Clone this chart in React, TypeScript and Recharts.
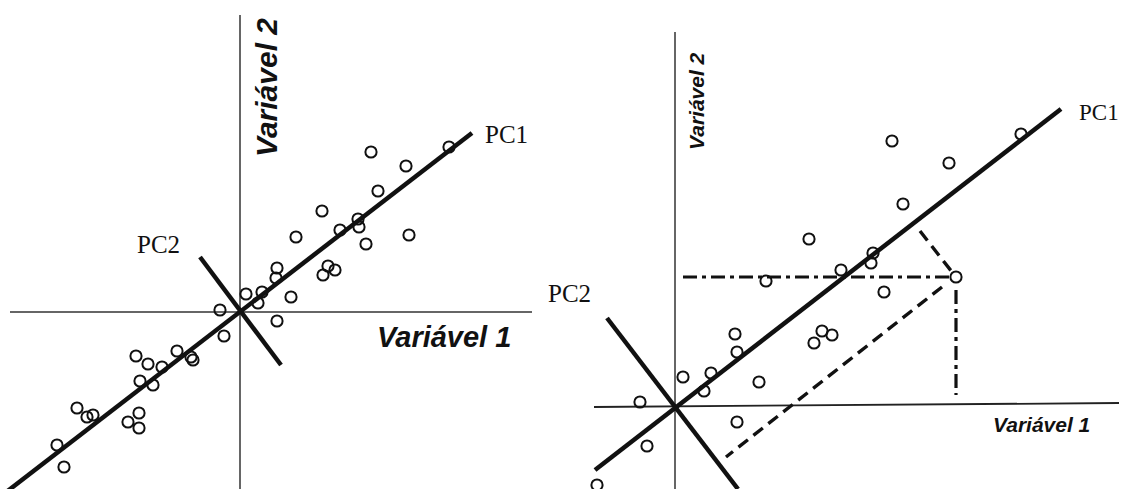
import { ScatterChart, Scatter, XAxis, YAxis } from 'recharts';

type Pt = { x: number; y: number };

// units: pixels from the origin of each panel, y pointing up

// left panel: observations scattered around PC1
const leftPoints: Pt[] = [
  { x: -20, y: 2 }, { x: -16, y: -24 }, { x: -104, y: -44 }, { x: -92, y: -52 },
  { x: -78, y: -55 }, { x: -63, y: -39 }, { x: -49, y: -45 }, { x: -47, y: -48 },
  { x: -100, y: -69 }, { x: -87, y: -73 }, { x: -163, y: -96 }, { x: -153, y: -105 },
  { x: -147, y: -103 }, { x: -112, y: -110 }, { x: -101, y: -101 }, { x: -101, y: -116 },
  { x: -183, y: -133 }, { x: -176, y: -155 }, { x: 131, y: 160 }, { x: 166, y: 146 },
  { x: 209, y: 165 }, { x: 138, y: 121 }, { x: 82, y: 101 }, { x: 100, y: 82 },
  { x: 118, y: 93 }, { x: 119, y: 85 }, { x: 126, y: 68 }, { x: 169, y: 77 },
  { x: 56, y: 75 }, { x: 37, y: 44 }, { x: 36, y: 34 }, { x: 88, y: 46 },
  { x: 95, y: 42 }, { x: 83, y: 37 }, { x: 51, y: 15 }, { x: 6, y: 18 },
  { x: 22, y: 20 }, { x: 18, y: 9 }, { x: 37, y: -9 },
];
const leftPc1: Pt[] = [{ x: -235, y: -181 }, { x: 232, y: 179 }];
const leftPc2: Pt[] = [{ x: -40, y: 55 }, { x: 41, y: -53 }];
const leftAxisX: Pt[] = [{ x: -230, y: 0 }, { x: 292, y: 0 }];
const leftAxisY: Pt[] = [{ x: 0, y: 297 }, { x: 0, y: -177 }];

// right panel: fewer points plus the projection of one of them
const rightPoints: Pt[] = [
  { x: 134, y: 168 }, { x: 166, y: 137 }, { x: 91, y: 126 }, { x: 60, y: 73 },
  { x: 62, y: 55 }, { x: 8, y: 30 }, { x: 36, y: 34 }, { x: 29, y: 16 },
  { x: 84, y: 25 }, { x: -35, y: 5 }, { x: 62, y: -15 }, { x: -28, y: -39 },
  { x: -78, y: -78 }, { x: 147, y: 76 }, { x: 157, y: 72 }, { x: 139, y: 64 },
  { x: 217, y: 266 }, { x: 274, y: 244 }, { x: 346, y: 273 }, { x: 228, y: 203 },
  { x: 198, y: 154 }, { x: 196, y: 144 }, { x: 209, y: 115 }, { x: 281, y: 130 },
];
const rightPc1: Pt[] = [{ x: -80, y: -63 }, { x: 386, y: 298 }];
const rightPc2: Pt[] = [{ x: -68, y: 89 }, { x: 63, y: -82 }];
const rightAxisX: Pt[] = [{ x: -81, y: 0 }, { x: 444, y: 4 }];
const rightAxisY: Pt[] = [{ x: 0, y: 375 }, { x: 0, y: -82 }];
const projVar2: Pt[] = [{ x: 8, y: 130 }, { x: 275, y: 130 }];
const projVar1: Pt[] = [{ x: 281, y: 117 }, { x: 281, y: 12 }];
const projPc1: Pt[] = [{ x: 245, y: 176 }, { x: 277, y: 135 }];
const projPc2: Pt[] = [{ x: 267, y: 120 }, { x: 51, y: -50 }];

type LineDef = { data: Pt[]; w: number; dash?: string; color?: string };

const noDot = () => <g />;

const ring = (props: any) => (
  <circle cx={props.cx} cy={props.cy} r={5.6} fill="none" stroke="#111" strokeWidth={2} />
);

function Panel({
  width,
  height,
  xDomain,
  yDomain,
  points,
  lines,
}: {
  width: number;
  height: number;
  xDomain: [number, number];
  yDomain: [number, number];
  points: Pt[];
  lines: LineDef[];
}) {
  return (
    <ScatterChart width={width} height={height} margin={{ top: 0, right: 0, bottom: 0, left: 0 }}>
      <XAxis type="number" dataKey="x" domain={xDomain} hide allowDataOverflow />
      <YAxis type="number" dataKey="y" domain={yDomain} hide allowDataOverflow />
      {lines.map((l, i) => (
        <Scatter
          key={i}
          data={l.data}
          line={{ stroke: l.color || '#111', strokeWidth: l.w, strokeDasharray: l.dash }}
          shape={noDot}
          isAnimationActive={false}
        />
      ))}
      <Scatter data={points} shape={ring} isAnimationActive={false} />
    </ScatterChart>
  );
}

const serif = '"Liberation Serif", "DejaVu Serif", serif';
const sans = '"Liberation Sans", Arial, sans-serif';

export default function App() {
  return (
    <div style={{ position: 'absolute', left: 0, top: 0, width: 1125, height: 489, background: '#fff' }}>
      <div style={{ display: 'flex' }}>
        <Panel
          width={562}
          height={489}
          xDomain={[-240, 322]}
          yDomain={[-177, 312]}
          points={leftPoints}
          lines={[
            { data: leftAxisX, w: 1.5, color: '#333' },
            { data: leftAxisY, w: 1.5, color: '#333' },
            { data: leftPc1, w: 4.5 },
            { data: leftPc2, w: 4.5 },
          ]}
        />
        <Panel
          width={563}
          height={489}
          xDomain={[-113, 450]}
          yDomain={[-82, 407]}
          points={rightPoints}
          lines={[
            { data: rightAxisX, w: 1.8, color: '#222' },
            { data: rightAxisY, w: 1.5, color: '#333' },
            { data: rightPc1, w: 4.5 },
            { data: rightPc2, w: 4.5 },
            { data: projVar2, w: 3.2, dash: '14 5 4 5' },
            { data: projVar1, w: 3.2, dash: '14 5 4 5' },
            { data: projPc1, w: 3.4, dash: '12 7' },
            { data: projPc2, w: 3.4, dash: '12 7' },
          ]}
        />
      </div>
      <svg
        width={1125}
        height={489}
        style={{ position: 'absolute', left: 0, top: 0, pointerEvents: 'none' }}
      >
        <g fill="#111">
          <text x={485} y={143} fontFamily={serif} fontSize={25}>PC1</text>
          <text x={137} y={253} fontFamily={serif} fontSize={25}>PC2</text>
          <text x={377} y={347} fontFamily={sans} fontSize={29} fontStyle="italic" fontWeight="bold">
            Variável 1
          </text>
          <text
            x={277}
            y={157}
            fontFamily={sans}
            fontSize={30}
            fontStyle="italic"
            fontWeight="bold"
            transform="rotate(-90 277 157)"
          >
            Variável 2
          </text>
          <text x={1079} y={120} fontFamily={serif} fontSize={23}>PC1</text>
          <text x={548} y={302} fontFamily={serif} fontSize={25}>PC2</text>
          <text x={993} y={432} fontFamily={sans} fontSize={21} fontStyle="italic" fontWeight="bold">
            Variável 1
          </text>
          <text
            x={704}
            y={150}
            fontFamily={sans}
            fontSize={21}
            fontStyle="italic"
            fontWeight="bold"
            transform="rotate(-90 704 150)"
          >
            Variável 2
          </text>
        </g>
      </svg>
    </div>
  );
}
